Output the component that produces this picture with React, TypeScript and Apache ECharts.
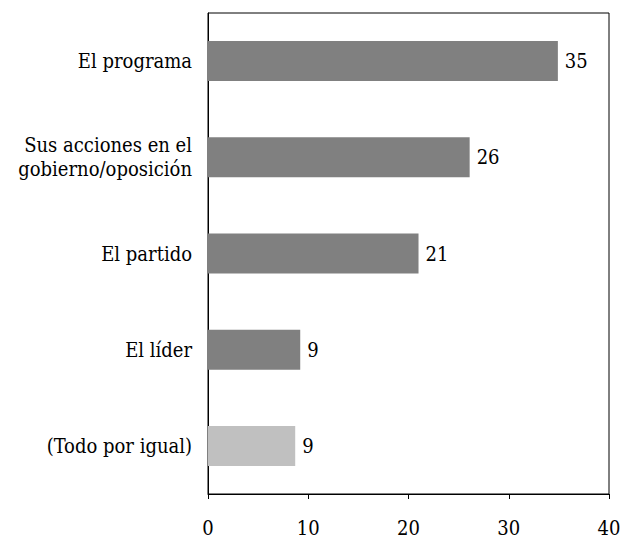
import React, { useEffect, useRef } from "react";
import * as echarts from "echarts";

const categories = [
  "El programa",
  "Sus acciones en el\ngobierno/oposición",
  "El partido",
  "El líder",
  "(Todo por igual)",
];
const values = [34.9, 26.1, 21.0, 9.2, 8.7];
const barColors = ["#808080", "#808080", "#808080", "#808080", "#c0c0c0"];
const xTicks = [0, 10, 20, 30, 40];

export default function App() {
  const ref = useRef<HTMLDivElement>(null);
  useEffect(() => {
    if (!ref.current) return;
    const chart = echarts.init(ref.current, undefined, { renderer: "svg" });
    const font = "DejaVu Serif Condensed, DejaVu Serif";
    chart.setOption({
      animation: false,
      backgroundColor: "#ffffff",
      textStyle: { fontFamily: font },
      grid: {
        left: 208,
        top: 13,
        right: 14,
        bottom: 47,
        outerBoundsMode: "none",
        containLabel: false,
        show: true,
        borderColor: "#000",
        borderWidth: 1,
        backgroundColor: "transparent",
      },
      xAxis: {
        type: "value",
        min: xTicks[0],
        max: xTicks[xTicks.length - 1],
        interval: 10,
        axisLine: { show: true, lineStyle: { color: "#000", width: 1 } },
        axisTick: { show: true, length: 5, lineStyle: { color: "#000" } },
        splitLine: { show: false },
        axisLabel: {
          color: "#000",
          fontFamily: font,
          fontSize: 20,
          margin: 24,
        },
      },
      yAxis: {
        type: "category",
        inverse: true,
        data: categories,
        axisLine: { show: true, lineStyle: { color: "#000", width: 1 } },
        axisTick: { show: false },
        axisLabel: {
          color: "#000",
          fontFamily: font,
          fontSize: 20,
          margin: 16,
          lineHeight: 24,
          align: "right",
        },
      },
      series: [
        {
          type: "bar",
          barWidth: 40,
          data: values.map((v, i) => ({
            value: v,
            itemStyle: { color: barColors[i] },
          })),
          label: {
            show: true,
            position: "right",
            distance: 7,
            color: "#000",
            fontFamily: font,
            fontSize: 20,
            formatter: (p: any) => String(Math.round(p.value)),
          },
        },
      ],
    });
    return () => chart.dispose();
  }, []);
  return (
    <div
      ref={ref}
      style={{ position: "fixed", left: 0, top: 0, width: 623, height: 541 }}
    />
  );
}
